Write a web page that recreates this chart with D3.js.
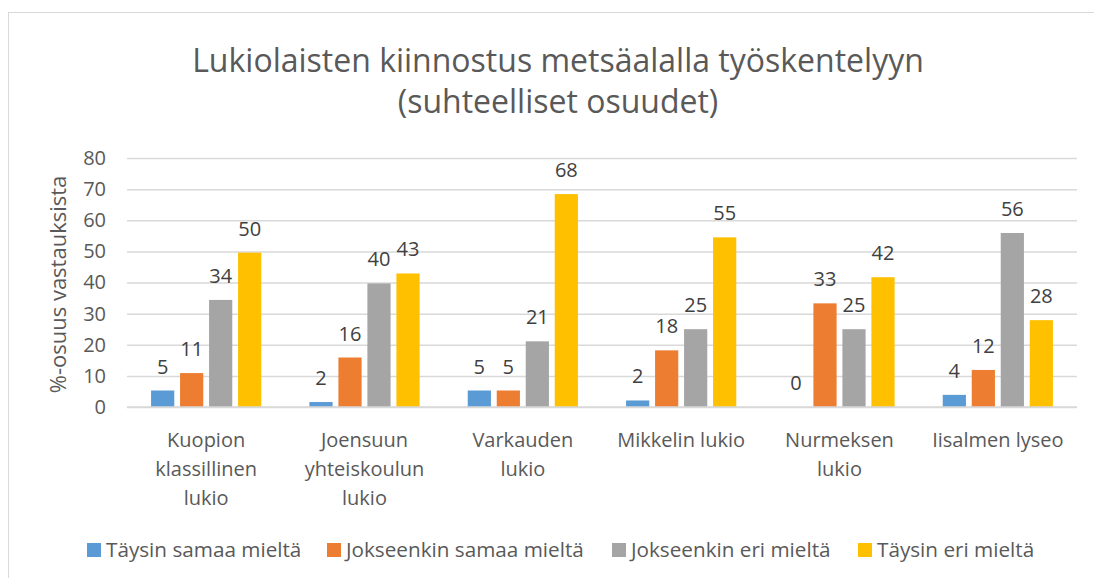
<!DOCTYPE html>
<html>
<head>
<meta charset="utf-8">
<script src="https://cdn.jsdelivr.net/npm/d3@7"></script>
<style>
  html, body { margin: 0; padding: 0; background: #fff; }
  svg text { font-family: "Open Sans", "Noto Sans", sans-serif; }
</style>
</head>
<body>
<div id="chart"></div>
<script>
// Chart data
const categories = [
    'Kuopion klassillinen lukio',
    'Joensuun yhteiskoulun lukio',
    'Varkauden lukio',
    'Mikkelin lukio',
    'Nurmeksen lukio',
    'Iisalmen lyseo'
];
const seriesNames = ['Täysin samaa mieltä', 'Jokseenkin samaa mieltä', 'Jokseenkin eri mieltä', 'Täysin eri mieltä'];
const taysinSamaa = [5.3, 1.6, 5.3, 2.1, 0, 3.9];
const jokseenkinSamaa = [10.9, 15.9, 5.3, 18.2, 33.3, 11.9];
const jokseenkinEri = [34.4, 39.7, 21.1, 25.0, 25.0, 55.9];
const taysinEri = [49.6, 42.9, 68.4, 54.5, 41.7, 27.9];
const yTicks = [0, 10, 20, 30, 40, 50, 60, 70, 80];
const colors = ['#5b9bd5', '#ed7d31', '#a5a5a5', '#ffc000'];

const seriesValues = [taysinSamaa, jokseenkinSamaa, jokseenkinEri, taysinEri];
const rows = categories.map((c, i) => ({
    name: c,
    values: seriesNames.map((s, j) => ({ series: s, idx: j, value: seriesValues[j][i] }))
}));

const width = 1094, height = 578;
const margin = { top: 158, right: 17, bottom: 171, left: 127 };
const plotW = width - margin.left - margin.right;
const plotH = height - margin.top - margin.bottom;

const svg = d3.select('#chart').append('svg')
    .attr('width', width)
    .attr('height', height);

// Chart border
svg.append('rect')
    .attr('x', 8.5).attr('y', 12.5)
    .attr('width', 1100).attr('height', 600)
    .attr('fill', 'none')
    .attr('stroke', '#d9d9d9')
    .attr('stroke-width', 1);

// Title
const title = svg.append('text')
    .attr('text-anchor', 'middle')
    .attr('fill', '#595959')
    .attr('font-size', '32px');
title.append('tspan').attr('x', 558).attr('y', 72).text('Lukiolaisten kiinnostus metsäalalla työskentelyyn');
title.append('tspan').attr('x', 558).attr('y', 113).text('(suhteelliset osuudet)');

const g = svg.append('g')
    .attr('transform', `translate(${margin.left},${margin.top})`);

// Scales
const x0 = d3.scaleBand()
    .domain(categories)
    .range([0, plotW])
    .padding(0);

const x1 = d3.scaleBand()
    .domain(seriesNames)
    .range([0, x0.bandwidth()])
    .paddingInner(0.2)
    .paddingOuter(0.83);

const y = d3.scaleLinear()
    .domain([0, 80])
    .range([plotH, 0]);

// Grid lines
g.append('g')
    .attr('class', 'grid')
    .call(d3.axisLeft(y).tickValues(yTicks).tickSize(-plotW).tickFormat(''))
    .call(sel => sel.select('.domain').remove())
    .call(sel => sel.selectAll('line').attr('stroke', '#d9d9d9').attr('stroke-width', 1.5));

// Y axis labels
g.append('g')
    .attr('class', 'y-axis')
    .call(d3.axisLeft(y).tickValues(yTicks).tickSize(0).tickPadding(21))
    .call(sel => sel.select('.domain').remove())
    .call(sel => sel.selectAll('text')
        .attr('fill', '#595959')
        .attr('font-size', '20px'));

// Y axis title
svg.append('text')
    .attr('transform', `translate(66,${margin.top + plotH / 2 + 2}) rotate(-90)`)
    .attr('text-anchor', 'middle')
    .attr('fill', '#595959')
    .attr('font-size', '22px')
    .text('%-osuus vastauksista');

// Bars
const groups = g.selectAll('.group')
    .data(rows)
    .enter()
    .append('g')
    .attr('class', 'group')
    .attr('transform', d => `translate(${x0(d.name)},0)`);

groups.selectAll('rect')
    .data(d => d.values)
    .enter()
    .append('rect')
    .attr('x', d => x1(d.series))
    .attr('y', d => y(d.value))
    .attr('width', x1.bandwidth())
    .attr('height', d => y(0) - y(d.value))
    .attr('fill', d => colors[d.idx]);

// Value labels
groups.selectAll('.label')
    .data(d => d.values)
    .enter()
    .append('text')
    .attr('class', 'label')
    .attr('x', d => x1(d.series) + x1.bandwidth() / 2)
    .attr('y', d => y(d.value) - 17)
    .attr('text-anchor', 'middle')
    .attr('fill', '#404040')
    .attr('font-size', '20px')
    .text(d => d3.format('.0f')(d.value));

// Baseline
g.append('line')
    .attr('x1', 0).attr('x2', plotW)
    .attr('y1', y(0)).attr('y2', y(0))
    .attr('stroke', '#d9d9d9')
    .attr('stroke-width', 1.5);

// Category labels (wrapped)
const catLabels = g.selectAll('.cat')
    .data(categories)
    .enter()
    .append('text')
    .attr('class', 'cat')
    .attr('text-anchor', 'middle')
    .attr('fill', '#595959')
    .attr('font-size', '20px')
    .attr('x', d => x0(d) + x0.bandwidth() / 2)
    .attr('y', plotH + 40);

catLabels.each(function(d) {
    const text = d3.select(this);
    const cx = text.attr('x');
    const words = d.split(' ');
    let line = [];
    let tspan = text.append('tspan').attr('x', cx).attr('dy', 0);
    words.forEach(w => {
        line.push(w);
        tspan.text(line.join(' '));
        if (tspan.node().getComputedTextLength() > 145 && line.length > 1) {
            line.pop();
            tspan.text(line.join(' '));
            line = [w];
            tspan = text.append('tspan').attr('x', cx).attr('dy', 29).text(w);
        }
    });
});

// Legend
const legendX = [87, 327, 612, 858];
const legend = svg.selectAll('.legend')
    .data(seriesNames)
    .enter()
    .append('g')
    .attr('class', 'legend')
    .attr('transform', (d, i) => `translate(${legendX[i]},543)`);

legend.append('rect')
    .attr('width', 14)
    .attr('height', 14)
    .attr('fill', (d, i) => colors[i]);

legend.append('text')
    .attr('x', 19)
    .attr('y', 7)
    .attr('dy', '0.35em')
    .attr('fill', '#595959')
    .attr('font-size', '20.7px')
    .text(d => d);
</script>
</body>
</html>
